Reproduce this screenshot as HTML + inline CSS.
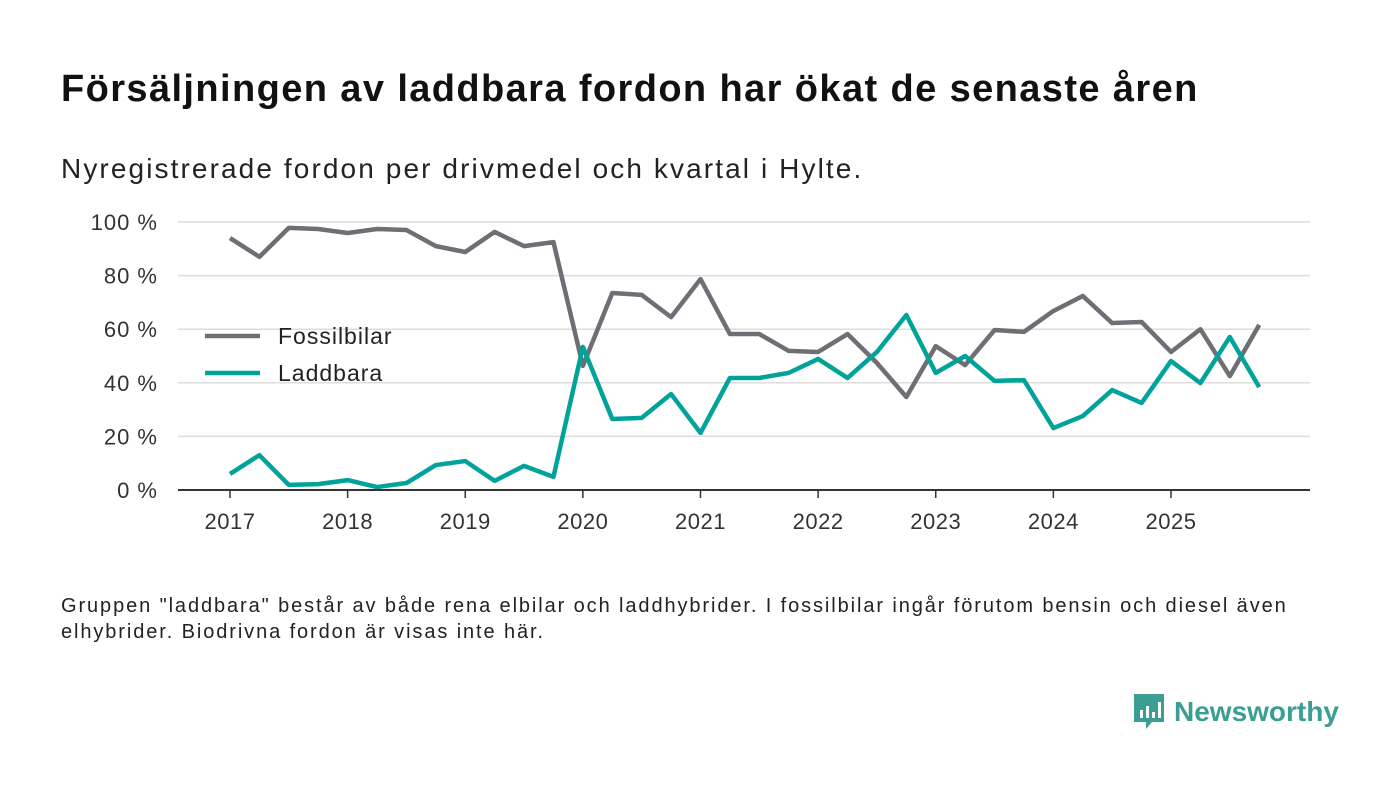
<!DOCTYPE html>
<html><head><meta charset="utf-8">
<style>
body{margin:0;width:1400px;height:793px;background:#fff;font-family:"Liberation Sans",sans-serif;overflow:hidden;position:relative}
h1{position:absolute;left:61px;top:68px;margin:0;font-size:38px;font-weight:bold;color:#111;letter-spacing:1.4px;white-space:nowrap}
.sub{position:absolute;left:61px;top:153px;font-size:28px;color:#222;letter-spacing:2.1px;white-space:nowrap}
.note{position:absolute;left:61px;top:593px;font-size:20px;line-height:26px;color:#222;width:1290px;letter-spacing:1.9px}
.logo{position:absolute;left:1132px;top:692px;display:flex;align-items:center;gap:8px;color:#3a9e93;font-size:28px;font-weight:bold}
</style></head><body>
<h1>Försäljningen av laddbara fordon har ökat de senaste åren</h1>
<div class="sub">Nyregistrerade fordon per drivmedel och kvartal i Hylte.</div>
<svg id="chart" width="1400" height="793" style="position:absolute;left:0;top:0"></svg>
<div class="note">Gruppen "laddbara" består av både rena elbilar och laddhybrider. I fossilbilar ingår förutom bensin och diesel även elhybrider. Biodrivna fordon är visas inte här.</div>
<div class="logo">
<svg width="34" height="40" viewBox="0 0 34 40"><path d="M2 2h30v28H20l-6 7v-7H2z" fill="#3a9e93"/><rect x="8" y="18" width="3" height="8" fill="#fff"/><rect x="14" y="14" width="3" height="12" fill="#fff"/><rect x="20" y="20" width="3" height="6" fill="#fff"/><rect x="26" y="10" width="3" height="16" fill="#fff"/></svg>
<span>Newsworthy</span></div>
<script>
const years=[2017,2018,2019,2020,2021,2022,2023,2024,2025];
const yTicks=[0,20,40,60,80,100];
const fossil=[94,87,97.8,97.4,95.9,97.4,97,91,88.8,96.3,91,92.5,46.3,73.5,72.8,64.5,78.7,58.2,58.2,51.9,51.5,58.2,47.4,34.7,53.7,46.6,59.7,59,66.8,72.4,62.3,62.7,51.5,60,42.5,61.6];
const laddbara=[6,13,1.9,2.2,3.7,1.1,2.6,9.3,10.8,3.4,9,4.9,53.4,26.5,26.9,35.8,21.3,41.8,41.8,43.7,48.9,41.8,51.5,65.3,43.7,50,40.7,41,23.1,27.6,37.3,32.5,48.1,39.9,57.1,38.4];
const NS="http://www.w3.org/2000/svg",svg=document.getElementById('chart');
const x=i=>230+i*(941/32), y=v=>490-v*2.68;
function mk(t,a){const e=document.createElementNS(NS,t);for(const k in a)e.setAttribute(k,a[k]);svg.appendChild(e);return e;}
yTicks.forEach(v=>{
 if(v>0){const g=mk('line',{x1:178,x2:1310,y1:y(v),y2:y(v),stroke:'#dcdcdc','stroke-width':1.5});
 
 }
 const t=mk('text',{x:158,y:y(v)+8,'text-anchor':'end','font-size':22,fill:'#333','font-family':'Liberation Sans','letter-spacing':1});t.textContent=v+' %';
 
 
});
const ax=mk('line',{x1:178,x2:1310,y1:490,y2:490,stroke:'#333','stroke-width':2});


years.forEach((yr,i)=>{
 const xx=x(i*4);
 const tk=mk('line',{x1:xx,x2:xx,y1:490,y2:498,stroke:'#333','stroke-width':1.5});
 
 
 const t=mk('text',{x:xx,y:529,'text-anchor':'middle','font-size':22,fill:'#333','font-family':'Liberation Sans','letter-spacing':0.5});t.textContent=yr;
 
 
});
function line(d,c,n){const p=mk('polyline',{points:d.map((v,i)=>x(i)+','+y(v)).join(' '),fill:'none',stroke:c,'stroke-width':4.5,'stroke-linejoin':'round'});
 
 }
line(fossil,'#6f6e75','fossilbilar-line');
line(laddbara,'#00a39a','laddbara-line');
[['Fossilbilar','#6f6e75',336],['Laddbara','#00a39a',373]].forEach(([l,c,yy])=>{
 const s=mk('line',{x1:205,x2:260,y1:yy,y2:yy,stroke:c,'stroke-width':4.5});
 
 
 const t=mk('text',{x:278,y:yy+8,'font-size':23,fill:'#222','font-family':'Liberation Sans','letter-spacing':1});t.textContent=l;
 
 
});
</script>
</body></html>
